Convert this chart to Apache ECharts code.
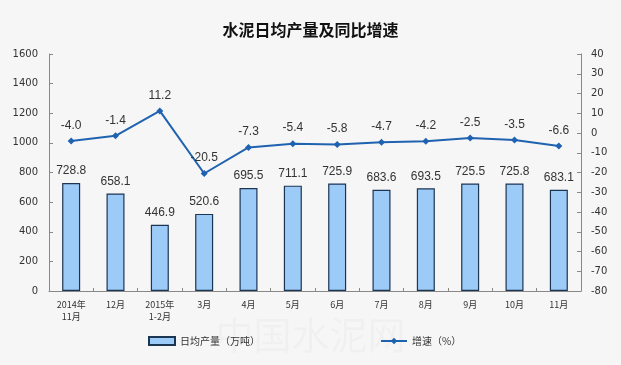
<!DOCTYPE html>
<html><head><meta charset="utf-8">
<script src="https://cdn.jsdelivr.net/npm/echarts@6/dist/echarts.min.js"></script>
<style>html,body{margin:0;padding:0;background:#f6f6f6}#c{width:621px;height:365px}</style>
</head><body><div id="c"></div>
<script>
const categories = ['2014年\n11月','12月','2015年\n1-2月','3月','4月','5月','6月','7月','8月','9月','10月','11月'];
const output = [728.8, 658.1, 446.9, 520.6, 695.5, 711.1, 725.9, 683.6, 693.5, 725.5, 725.8, 683.1];
const growth = [-4.0, -1.4, 11.2, -20.5, -7.3, -5.4, -5.8, -4.7, -4.2, -2.5, -3.5, -6.6];
const leftTicks = {min: 0, max: 1600, interval: 200};
const rightTicks = {min: -80, max: 40, interval: 10};

const chart = echarts.init(document.getElementById('c'));
const font = '"Noto Sans CJK SC", sans-serif';
chart.setOption({
  backgroundColor: '#f6f6f6',
  animation: false,
  title: {text: '水泥日均产量及同比增速', left: 'center', top: 17,
    textStyle: {fontSize: 16, fontWeight: 'bold', color: '#111', fontFamily: font}},
  graphic: [{type: 'text', left: 'center', top: 316, silent: true,
    style: {text: '中国水泥网', fontSize: 38, fontFamily: font, fill: 'rgba(0,0,0,0.025)'}}],
  legend: {bottom: 14, left: 143, itemGap: 120, itemWidth: 26, itemHeight: 8,
    textStyle: {fontSize: 10, color: '#333', fontFamily: font},
    data: [{name: '日均产量（万吨）', icon: 'rect'}, {name: '增速（%）'}]},
  grid: {left: 49, right: 40, top: 54, bottom: 74},
  xAxis: {type: 'category', data: categories,
    axisLine: {lineStyle: {color: '#888'}},
    axisTick: {show: true, inside: true, length: 3, lineStyle: {color: '#888'}},
    axisLabel: {fontSize: 9, color: '#333', fontFamily: font, lineHeight: 12, margin: 8}},
  yAxis: [
    {type: 'value', ...leftTicks, splitLine: {show: false},
      axisLine: {show: true, lineStyle: {color: '#888'}},
      axisTick: {show: true, inside: true, length: 4, lineStyle: {color: '#888'}},
      axisLabel: {fontSize: 10, color: '#333', fontFamily: 'DejaVu Sans', margin: 11, formatter: v => String(v)}},
    {type: 'value', ...rightTicks, splitLine: {show: false},
      axisLine: {show: true, lineStyle: {color: '#888'}},
      axisTick: {show: true, inside: true, length: 4, lineStyle: {color: '#888'}},
      axisLabel: {fontSize: 10, color: '#333', fontFamily: 'DejaVu Sans', margin: 10, formatter: v => String(v)}}
  ],
  series: [
    {name: '日均产量（万吨）', type: 'bar', data: output, barWidth: 18,
      itemStyle: {color: '#9dcbf7', borderColor: '#1c3553', borderWidth: 1.2},
      label: {show: true, position: 'top', distance: 6, fontSize: 12, color: '#333', fontFamily: 'Liberation Sans',
        formatter: p => p.value.toFixed(1)}},
    {name: '增速（%）', type: 'line', yAxisIndex: 1, data: growth,
      symbol: 'diamond', symbolSize: 7,
      lineStyle: {color: '#1f62b0', width: 2}, itemStyle: {color: '#1f62b0'},
      label: {show: true, position: 'top', distance: 6, fontSize: 12, color: '#333', fontFamily: 'Liberation Sans',
        formatter: p => p.value.toFixed(1)}}
  ]
});
</script></body></html>
